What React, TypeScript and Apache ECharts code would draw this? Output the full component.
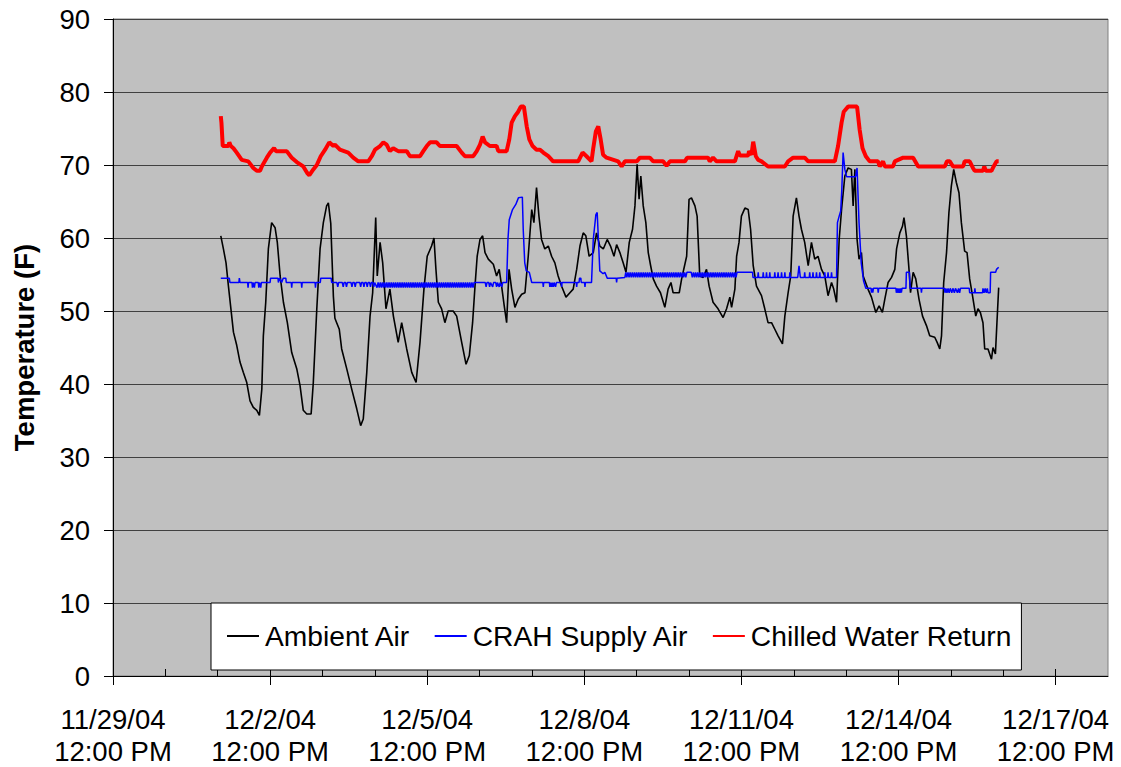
import { useEffect, useRef } from "react";
import * as echarts from "echarts";

// Time origin of the x axis: 11/29/04 12:00 PM; x values are hours since then.
const START = new Date(2004, 10, 29, 12, 0).getTime();
const X_MAX_HOURS = 456; // 12/18/04 12:00 PM
const majorTickHours = [0, 72, 144, 216, 288, 360, 432];
const dayTickHours = [24, 48, 72, 96, 120, 144, 168, 192, 216, 240, 264, 288, 312, 336, 360, 384, 408, 432];
const Y_MIN = 0;
const Y_MAX = 90;
const Y_STEP = 10;

const seriesNames = ["Ambient Air", "CRAH Supply Air", "Chilled Water Return"];

// [hours since start, temperature °F]
const ambientAir: [number, number][] = [
  [49.4,60.3],[50.6,58.5],[51.8,56.6],[52.9,53.4],[54.0,50.4],[55.2,47.1],[56.7,45.3],[58.2,43.0],[59.7,41.6],[61.3,40.2],[62.8,37.7],[64.3,36.8],[65.9,36.4],[67.1,35.7],[68.2,39.3],[68.9,46.6],[70.0,51.2],[71.2,58.5],[72.7,62.1],[74.3,61.4],[75.3,59.4],[76.6,54.8],[78.1,51.2],[79.9,48.4],[81.9,44.3],[84.2,42.1],[85.7,39.8],[87.2,36.4],[88.8,35.9],[90.8,35.9],[91.8,40.2],[93.4,50.3],[94.9,58.5],[96.4,62.1],[97.9,64.4],[98.7,64.8],[99.8,62.0],[101.0,52.0],[101.7,49.0],[102.5,48.4],[103.7,47.5],[104.8,44.8],[107.1,42.1],[109.4,39.3],[111.7,36.6],[113.5,34.3],[114.7,35.2],[116.3,41.6],[117.8,49.3],[119.0,52.5],[120.4,62.8],[121.1,54.8],[122.4,59.4],[123.6,56.6],[125.1,50.3],[126.9,53.0],[128.5,49.3],[130.7,45.7],[132.3,48.4],[134.6,44.8],[136.9,41.6],[138.9,40.2],[140.7,45.7],[142.5,53.0],[144.0,57.5],[146.0,58.9],[147.1,60.0],[148.0,55.7],[149.1,51.2],[150.6,50.3],[152.1,48.4],[153.6,50.0],[155.9,50.0],[157.5,49.3],[159.8,45.7],[161.8,42.7],[163.3,43.9],[164.8,48.4],[165.9,53.4],[166.9,57.5],[168.2,59.8],[169.4,60.3],[170.5,58.0],[172.0,57.1],[174.3,56.4],[175.8,54.8],[177.0,55.7],[178.1,53.4],[179.3,50.7],[180.4,48.4],[181.5,55.7],[182.7,53.0],[184.2,50.5],[185.7,51.6],[187.3,52.3],[188.8,52.5],[190.3,57.5],[191.9,63.9],[192.9,62.1],[194.1,66.9],[195.2,63.0],[196.4,59.8],[197.9,58.5],[199.5,58.9],[201.0,57.5],[202.5,56.6],[204.0,54.8],[205.6,53.4],[207.6,51.9],[209.4,52.5],[210.9,53.0],[212.5,55.7],[214.0,58.9],[215.5,60.7],[216.7,60.3],[218.2,57.5],[220.1,58.0],[221.6,60.7],[223.1,58.9],[224.7,58.5],[226.5,59.8],[228.0,58.9],[229.6,57.5],[230.8,59.1],[232.3,58.0],[233.8,56.6],[235.1,55.3],[236.6,59.4],[238.1,61.2],[239.2,64.4],[240.2,70.1],[241.1,65.3],[241.9,68.5],[243.0,64.4],[244.2,62.1],[245.3,58.0],[246.4,56.2],[247.6,54.4],[249.1,53.4],[250.9,52.5],[252.9,50.5],[254.4,53.0],[255.7,53.9],[256.7,52.5],[259.5,52.5],[260.6,54.4],[262.9,57.5],[264.0,65.3],[265.1,65.5],[266.7,64.4],[267.7,63.0],[268.9,54.8],[270.5,54.6],[272.0,55.7],[273.2,53.4],[275.0,51.2],[277.3,50.3],[279.6,49.1],[281.2,50.3],[282.7,51.9],[283.5,50.5],[285.0,53.0],[285.8,57.5],[286.9,59.4],[288.0,63.0],[289.6,64.1],[291.1,63.9],[292.2,61.2],[293.4,56.2],[294.9,53.4],[297.2,52.1],[298.7,50.3],[300.2,48.4],[301.8,48.4],[303.3,47.5],[304.8,46.6],[306.8,45.5],[307.9,49.3],[309.4,52.5],[310.6,54.8],[311.7,63.0],[313.2,65.5],[314.4,63.0],[315.5,61.2],[317.0,59.4],[318.6,56.2],[320.1,59.4],[321.6,57.1],[323.1,57.5],[324.7,55.7],[326.2,54.8],[327.7,52.1],[329.3,53.9],[330.3,53.0],[331.6,51.2],[332.8,59.8],[333.9,63.9],[335.4,68.5],[336.9,69.6],[338.4,69.4],[339.2,64.4],[340.0,69.4],[341.0,59.8],[341.9,57.1],[343.0,58.0],[343.8,54.8],[346.0,53.0],[347.6,51.9],[349.6,49.8],[351.1,50.7],[352.6,49.8],[353.7,51.6],[355.2,53.9],[356.8,54.6],[358.3,55.7],[359.1,58.5],[360.6,60.7],[361.8,61.6],[362.5,62.8],[363.6,60.3],[364.8,55.7],[365.5,52.5],[366.7,55.3],[367.9,54.4],[369.4,51.6],[371.0,49.3],[372.8,48.0],[374.3,46.6],[376.6,46.4],[377.7,45.7],[378.9,44.8],[379.7,46.6],[380.7,53.9],[382.0,58.0],[383.1,63.5],[384.2,67.1],[385.3,69.4],[386.5,67.6],[387.7,66.2],[388.8,62.1],[390.3,58.2],[391.4,58.0],[392.6,54.4],[393.9,52.1],[395.4,49.3],[396.4,50.3],[397.5,49.8],[398.7,48.4],[399.5,44.8],[401.0,44.8],[402.6,43.4],[403.3,45.0],[404.4,44.1],[405.1,48.4],[405.9,53.2]
];

const crahSupplyAir: [number, number][] = [
  [49.4,54.5],[53.3,54.5],[53.6,53.9],[57.7,53.9],[57.9,54.5],[58.2,53.9],
  [61.7,53.9],[61.9,53.2],[62.1,53.9],
  [63.7,53.9],[63.9,53.2],[64.2,53.9],[64.8,53.2],[65.1,53.9],
  [66.6,53.9],[66.8,53.2],[67.1,53.9],[67.7,53.2],[68.0,53.9],
  [72.0,53.9],[72.2,54.5],[75.6,54.5],[75.8,53.9],[76.3,54.5],[77.3,53.9],[78.0,54.5],[79.2,54.5],[79.4,53.9],
  [81.7,53.9],[81.9,53.2],[82.1,53.9],
  [86.3,53.9],[86.5,53.2],[86.7,53.9],
  [92.6,53.9],[92.8,53.2],[93.0,53.9],
  [95.0,53.9],[95.2,54.5],[100.0,54.5],[100.2,53.9],
  [102.6,53.9],[103.0,53.3],[103.4,53.9],
  [105.1,53.9],[105.5,53.3],[105.9,53.9],
  [106.6,53.9],[107.0,53.3],[107.4,53.9],
  [109.1,53.9],[109.5,53.3],[109.9,53.9],
  [110.6,53.9],[111.0,53.3],[111.4,53.9],
  [113.1,53.9],[113.5,53.3],[113.9,53.9],
  [114.6,53.9],[115.0,53.3],[115.4,53.9],
  [116.1,53.9],[116.5,53.3],[116.9,53.9],
  [117.6,53.9],[118.0,53.3],[118.4,53.9],
  [119.1,53.9],[119.5,53.3],[119.9,53.9],
  [121,53.2],[121.5,53.9],[122,53.2],[122.5,53.9],[123,53.2],[123.5,53.9],[124,53.2],[124.5,53.9],[125,53.2],[125.5,53.9],
  [126,53.2],[126.5,53.9],[127,53.2],[127.5,53.9],[128,53.2],[128.5,53.9],[129,53.2],[129.5,53.9],[130,53.2],[130.5,53.9],
  [131,53.2],[131.5,53.9],[132,53.2],[132.5,53.9],[133,53.2],[133.5,53.9],[134,53.2],[134.5,53.9],[135,53.2],[135.5,53.9],
  [136,53.2],[136.5,53.9],[137,53.2],[137.5,53.9],[138,53.2],[138.5,53.9],[139,53.2],[139.5,53.9],[140,53.2],[140.5,53.9],
  [141,53.2],[141.5,53.9],[142,53.2],[142.5,53.9],[143,53.2],[143.5,53.9],[144,53.2],[144.5,53.9],[145,53.2],[145.5,53.9],
  [146,53.2],[146.5,53.9],[147,53.2],[147.5,53.9],[148,53.2],[148.5,53.9],[149,53.2],[149.5,53.9],[150,53.2],[150.5,53.9],
  [151,53.2],[151.5,53.9],[152,53.2],[152.5,53.9],[153,53.2],[153.5,53.9],[154,53.2],[154.5,53.9],[155,53.2],[155.5,53.9],
  [156,53.2],[156.5,53.9],[157,53.2],[157.5,53.9],[158,53.2],[158.5,53.9],[159,53.2],[159.5,53.9],[160,53.2],[160.5,53.9],
  [161,53.2],[161.5,53.9],[162,53.2],[162.5,53.9],[163,53.2],[163.5,53.9],[164,53.2],[164.5,53.9],[165,53.2],[165.5,53.9],
  [170.6,53.9],[171,53.3],[171.4,53.9],[172.2,53.9],[172.6,53.3],[173,53.9],[174,53.3],[174.4,53.9],[175.4,53.9],[175.8,53.3],[176.2,53.9],
  [177,53.3],[177.4,53.9],[178.2,53.3],[178.6,53.9],[180.4,53.9],
  [181.0,59.8],[181.6,62.5],[183.1,63.9],[184.6,64.6],[185.8,65.5],[187.6,65.6],[188.0,61.2],[188.7,56.6],[189.4,55.5],[190.8,55.3],[191.9,53.9],
  [197.0,53.9],[197.2,53.3],[197.4,53.9],
  [200.0,53.9],[200.2,53.3],[200.6,53.9],[201.0,53.3],[201.4,53.9],[201.8,53.3],[202.2,53.9],[202.8,53.3],[203.2,53.9],
  [205.4,53.9],[205.6,53.3],[205.8,53.9],
  [212.3,53.9],[212.5,53.3],[212.7,53.9],
  [213.6,53.9],[213.8,54.5],[214.4,54.5],[214.6,53.9],
  [216.1,53.9],[216.3,53.3],[216.5,53.9],
  [219.3,53.9],[220.1,59.8],[221.3,63.2],[221.9,63.5],[223.1,55.5],[224.6,55.1],[225.4,55.3],[226.5,54.5],[230.6,54.5],[230.8,53.9],[231.0,54.5],[234.6,54.6],
  [235,55.3],[235.5,54.6],[236,55.3],[236.5,54.6],[237,55.3],[237.5,54.6],[238,55.3],[238.5,54.6],[239,55.3],[239.5,54.6],
  [240,55.3],[240.5,54.6],[241,55.3],[241.5,54.6],[242,55.3],[242.5,54.6],[243,55.3],[243.5,54.6],[244,55.3],[244.5,54.6],
  [245,55.3],[245.5,54.6],[246,55.3],[246.5,54.6],[247,55.3],[247.5,54.6],[248,55.3],[248.5,54.6],[249,55.3],[249.5,54.6],
  [250,55.3],[250.5,54.6],[251,55.3],[251.5,54.6],[252,55.3],[252.5,54.6],[253,55.3],[253.5,54.6],[254,55.3],[254.5,54.6],
  [255,55.3],[255.5,54.6],[256,55.3],[256.5,54.6],[257,55.3],[257.5,54.6],[258,55.3],[258.5,54.6],[259,55.3],[259.5,54.6],
  [260,55.3],[260.5,54.6],[261,55.3],[261.5,54.6],[262,55.3],[262.5,54.6],[263,55.3],[265,55.3],[265.5,54.6],
  [266,55.3],[266.5,54.6],[267,55.3],[267.5,54.6],[268,55.3],[268.5,54.6],[269,55.3],[269.5,54.6],
  [270,55.3],[270.5,54.6],[271,55.3],[271.5,54.6],[272,55.3],[272.5,54.6],[273,55.3],[273.5,54.6],[274,55.3],[274.5,54.6],
  [275,55.3],[275.5,54.6],[276,55.3],[276.5,54.6],[277,55.3],[277.5,54.6],[278,55.3],[278.5,54.6],[279,55.3],[279.5,54.6],
  [280,55.3],[280.5,54.6],[281,55.3],[281.5,54.6],[282,55.3],[282.5,54.6],[283,55.3],[283.5,54.6],[284,55.3],[284.5,54.6],
  [285,55.3],[285.5,54.6],[286,55.3],[293.1,55.3],[293.3,54.6],
  [295.5,54.6],[295.7,55.3],[295.9,54.6],[297.8,54.6],[298.0,55.3],[298.2,54.6],[299.3,54.6],[299.5,55.3],[299.7,54.6],
  [300.8,54.6],[301.0,55.3],[301.2,54.6],[303.1,54.6],[303.3,55.3],[303.5,54.6],[304.6,54.6],[304.8,55.3],[305.0,54.6],
  [306.2,54.6],[306.4,55.3],[306.6,54.6],[307.7,54.6],[307.9,55.3],[308.1,54.6],[310.0,54.6],[310.2,55.3],[310.4,54.6],
  [313.8,54.6],[314.4,56.2],[315.0,54.6],
  [316.8,54.6],[317.0,55.3],[317.2,54.6],[319.1,54.6],[319.3,55.3],[319.5,54.6],[320.6,54.6],[320.8,55.3],[321.0,54.6],
  [322.2,54.6],[322.4,55.3],[322.6,54.6],[323.7,54.6],[323.9,55.3],[324.1,54.6],[326.0,54.6],[326.2,55.3],[326.4,54.6],
  [327.5,54.6],[327.7,55.3],[327.9,54.6],[329.1,54.6],[329.3,55.3],[329.5,54.6],
  [331.6,54.6],[332.0,62.1],[332.8,63.0],[333.5,63.7],[334.0,66.6],[334.6,71.7],[335.4,69.4],[336.2,68.4],[340.3,68.4],[341.0,69.6],[341.9,62.1],[342.9,56.6],[344.0,54.1],[345.0,53.1],
  [347.4,53.1],[347.6,52.5],[347.9,53.1],[348.2,52.5],[348.5,53.1],[350.5,53.1],[350.7,52.5],[350.9,53.1],
  [358.8,53.1],[359.0,52.5],[359.4,53.1],[359.8,52.5],[360.2,53.1],[360.6,52.5],[361.0,53.1],[361.3,52.5],[361.6,53.1],
  [363.4,53.1],[363.6,55.3],[365.0,55.3],[365.3,53.1],[370.3,53.1],[370.5,52.5],[370.7,53.1],
  [381.0,53.1],[381.3,52.5],[381.7,53.1],[382.2,52.5],[382.7,53.1],[383.2,52.5],[383.7,53.1],[384.4,52.5],[384.9,53.1],
  [385.6,52.5],[386.1,53.1],[387.0,52.5],[387.5,53.1],[388.0,52.5],[388.4,53.1],
  [392.4,53.1],[392.6,52.5],[394.8,52.5],[395.0,53.1],[395.2,52.5],[398.5,52.5],[398.7,53.1],[399.2,52.5],[399.7,53.1],
  [400.2,52.5],[400.7,53.1],[401.0,52.5],[402.0,52.5],[402.2,55.3],[404.5,55.3],[404.9,55.7],[405.9,56.0]
];

const chilledWaterReturn: [number, number][] = [
  [49.4,76.7],[49.7,75.8],[50.3,72.6],[52.9,72.6],[53.3,73.1],[54.0,72.6],[55.2,72.3],[56.7,71.7],[59.0,70.7],[62.0,70.5],
  [64.3,69.6],[65.9,69.2],[67.4,69.2],[68.2,69.8],[70.5,71.0],[72.0,71.7],[73.8,72.3],[74.7,71.9],[79.6,71.9],[81.9,71.0],
  [84.2,70.4],[87.2,69.8],[89.0,68.9],[90.0,68.6],[91.8,69.4],[93.4,70.0],[95.2,71.2],[97.2,72.1],[99.1,73.1],[101.0,72.6],
  [101.7,72.8],[104.0,72.1],[107.8,71.7],[110.1,71.0],[112.4,70.5],[117.0,70.5],[118.6,71.2],[120.1,72.1],[122.4,72.6],
  [123.9,73.1],[125.4,72.8],[126.9,71.9],[128.4,72.3],[130.7,71.9],[134.6,71.9],[136.1,71.2],[140.7,71.2],[142.2,71.9],
  [143.8,72.6],[145.3,73.1],[148.3,73.1],[149.8,72.6],[157.5,72.6],[159.8,71.7],[161.3,71.2],[165.1,71.2],[166.7,71.9],
  [168.2,72.8],[169.4,73.9],[170.5,73.1],[172.7,72.6],[175.8,72.6],[176.6,71.9],[180.4,71.9],[181.6,73.5],[182.7,75.8],
  [184.2,76.7],[185.7,77.3],[186.9,78.0],[188.3,78.0],[189.6,75.3],[190.8,73.5],[192.3,72.6],[194.1,72.1],[195.7,72.1],
  [197.2,71.7],[199.5,71.2],[201.7,70.5],[213.2,70.5],[215.2,71.7],[217.0,71.2],[219.3,70.5],[220.1,72.3],[221.3,74.6],
  [222.4,75.3],[223.5,73.5],[224.6,71.4],[226.2,71.0],[231.5,70.5],[233.1,69.8],[234.6,70.5],[240.0,70.5],[241.5,71.0],
  [246.0,71.0],[247.6,70.5],[252.1,70.5],[253.7,69.9],[255.2,70.5],[262.1,70.5],[263.1,71.0],[272.7,71.0],[273.5,70.5],
  [275.0,71.0],[276.6,70.5],[285.0,70.5],[286.5,71.9],[287.3,71.3],[291.1,71.3],[291.5,71.9],[292.6,71.4],[293.4,73.2],
  [294.6,71.2],[295.7,70.7],[297.2,70.5],[300.2,69.8],[307.9,69.8],[309.4,70.5],[311.7,71.0],[317.0,71.0],[318.6,70.5],
  [330.8,70.5],[332.3,72.6],[333.9,75.8],[334.9,77.3],[336.9,78.0],[341.0,78.0],[342.2,74.8],[343.5,72.3],[345.0,71.2],
  [346.8,70.5],[350.6,70.5],[351.4,69.8],[352.9,70.5],[353.7,69.8],[357.5,69.8],[358.3,70.5],[362.1,71.0],[366.7,71.0],
  [369.0,69.8],[381.2,69.8],[382.2,70.5],[383.5,70.5],[385.0,69.8],[389.6,69.8],[390.3,70.5],[392.6,70.5],[394.1,69.6],
  [394.9,69.2],[398.7,69.2],[399.3,69.8],[400.0,69.2],[402.6,69.2],[403.6,69.8],[404.9,70.5],[405.9,70.5]
];

const FONT = "'Liberation Sans', Arial, Helvetica, sans-serif";

function formatTick(v: number): string {
  const d = new Date(START + v * 3600000);
  const yy = String(d.getFullYear()).slice(2);
  const h = d.getHours();
  const ampm = h >= 12 ? "PM" : "AM";
  const h12 = h % 12 === 0 ? 12 : h % 12;
  const mm = String(d.getMinutes()).padStart(2, "0");
  return `${d.getMonth() + 1}/${d.getDate()}/${yy}\n${h12}:${mm} ${ampm}`;
}

export default function App() {
  const ref = useRef<HTMLDivElement>(null);
  useEffect(() => {
    if (!ref.current) return;
    const chart = echarts.init(ref.current, undefined, { renderer: "svg" });
    chart.setOption({
      animation: false,
      backgroundColor: "#ffffff",
      textStyle: { fontFamily: FONT },
      grid: {
        left: 113,
        right: 13,
        top: 19,
        bottom: 89,
        show: true,
        backgroundColor: "#C0C0C0",
        borderColor: "#808080",
        borderWidth: 1,
        containLabel: false,
      },
      legend: {
        left: 211,
        top: 603,
        orient: "horizontal",
        padding: [19, 10, 20, 15],
        itemGap: 23,
        itemWidth: 32,
        itemHeight: 14,
        backgroundColor: "#ffffff",
        borderColor: "#000000",
        borderWidth: 1,
        borderRadius: 0,
        data: seriesNames,
        itemStyle: { opacity: 0 },
        textStyle: { fontSize: 28.2, color: "#000", fontFamily: FONT, padding: [0, 0, 0, 1] },
      },
      xAxis: [
        {
          type: "value",
          min: 0,
          max: X_MAX_HOURS,
          position: "bottom",
          axisLine: { show: true, onZero: false, lineStyle: { color: "#000", width: 1 } },
          axisTick: { show: true, inside: false, length: 9, customValues: majorTickHours, lineStyle: { color: "#000" } },
          axisLabel: {
            customValues: majorTickHours,
            formatter: formatTick,
            fontSize: 27.5,
            lineHeight: 32,
            color: "#000",
            fontFamily: FONT,
            margin: 27,
          },
          splitLine: { show: false },
        },
        {
          type: "value",
          min: 0,
          max: X_MAX_HOURS,
          position: "bottom",
          axisLine: { show: false, onZero: false },
          axisTick: { show: true, inside: true, length: 7, customValues: dayTickHours, lineStyle: { color: "#000" } },
          axisLabel: { show: false },
          splitLine: { show: false },
        },
      ],
      yAxis: {
        type: "value",
        min: Y_MIN,
        max: Y_MAX,
        interval: Y_STEP,
        name: "Temperature (F)",
        nameLocation: "middle",
        nameGap: 75,
        nameRotate: 90,
        nameTextStyle: { fontSize: 27.5, fontWeight: "bold", color: "#000", fontFamily: FONT },
        axisLine: { show: true, lineStyle: { color: "#000", width: 1 } },
        axisTick: { show: true, inside: false, length: 9, lineStyle: { color: "#000" } },
        axisLabel: { fontSize: 27.5, color: "#000", margin: 23, fontFamily: FONT },
        splitLine: { show: true, lineStyle: { color: "#404040", width: 1 } },
      },
      series: [
        {
          name: seriesNames[0],
          type: "line",
          xAxisIndex: 0,
          data: ambientAir,
          symbol: "none",
          showSymbol: false,
          lineStyle: { color: "#000000", width: 1.6 },
          itemStyle: { color: "#000000" },
        },
        {
          name: seriesNames[1],
          type: "line",
          xAxisIndex: 0,
          data: crahSupplyAir,
          symbol: "none",
          showSymbol: false,
          lineStyle: { color: "#0000FF", width: 1.5 },
          itemStyle: { color: "#0000FF" },
        },
        {
          name: seriesNames[2],
          type: "line",
          xAxisIndex: 0,
          data: chilledWaterReturn,
          symbol: "none",
          showSymbol: false,
          lineStyle: { color: "#FF0000", width: 4 },
          itemStyle: { color: "#FF0000" },
        },
      ],
    });
    return () => chart.dispose();
  }, []);
  return (
    <div
      ref={ref}
      style={{ position: "fixed", left: 0, top: 0, width: 1121, height: 767, background: "#fff" }}
    />
  );
}
